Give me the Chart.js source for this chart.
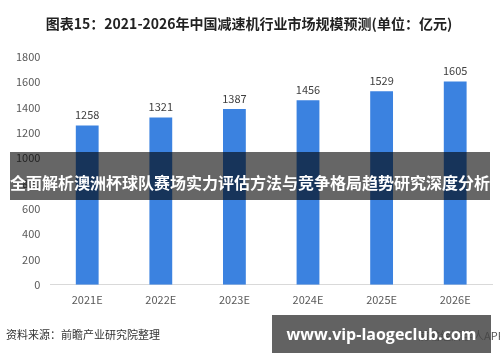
<!DOCTYPE html>
<html>
<head>
<meta charset="utf-8">
<script src="https://cdn.jsdelivr.net/npm/chart.js@4/dist/chart.umd.min.js"></script>
<style>
  html, body { margin: 0; padding: 0; background: #fff; }
  #wrap { position: relative; width: 500px; height: 362px; overflow: hidden; font-family: "Noto Sans CJK SC", "Noto Sans", sans-serif; }
  #source { position: absolute; left: 6px; top: 326px; font-size: 11px; color: #333; white-space: nowrap; }
  #app { position: absolute; left: 418px; top: 327px; font-size: 11px; color: #555; white-space: nowrap; }
  #banner { position: absolute; left: 10px; top: 152px; width: 480px; height: 48px; background: rgba(0,0,0,0.6);
    color: #fff; font-size: 16px; font-weight: bold; text-align: center; line-height: 60px; white-space: nowrap; }
  #site { position: absolute; left: 272px; top: 315px; width: 219px; height: 38px; background: rgba(70,70,70,0.85);
    color: #fff; font-size: 16px; font-weight: bold; text-align: center; line-height: 38px; white-space: nowrap;
    font-family: "Open Sans", "DejaVu Sans", sans-serif; }
</style>
</head>
<body>
<div id="wrap">
  <canvas id="chart" width="500" height="362"></canvas>
  <div id="source">资料来源：前瞻产业研究院整理</div>
  <div id="app">前瞻经济学人APP</div>
  <div id="banner">全面解析澳洲杯球队赛场实力评估方法与竞争格局趋势研究深度分析</div>
  <div id="site">www.vip-laogeclub.com</div>
</div>
<script>
  // 数据
  const years = ['2021E', '2022E', '2023E', '2024E', '2025E', '2026E'];
  const marketSize = [1258, 1321, 1387, 1456, 1529, 1605];
  const yTicks = [0, 200, 400, 600, 800, 1000, 1200, 1400, 1600, 1800];

  const fontFamily = '"Noto Sans CJK SC", "Noto Sans", sans-serif';

  // 柱顶数值
  const valueLabels = {
    id: 'valueLabels',
    afterDatasetsDraw(chart) {
      const { ctx } = chart;
      const meta = chart.getDatasetMeta(0);
      ctx.save();
      ctx.font = '11px ' + fontFamily;
      ctx.fillStyle = '#404040';
      ctx.textAlign = 'center';
      ctx.textBaseline = 'bottom';
      meta.data.forEach((bar, i) => {
        ctx.fillText(String(marketSize[i]), bar.x, bar.y - 5);
      });
      ctx.restore();
    }
  };

  new Chart(document.getElementById('chart').getContext('2d'), {
    type: 'bar',
    data: {
      labels: years,
      datasets: [{
        data: marketSize,
        backgroundColor: '#3b82e0',
        barPercentage: 0.31,
        categoryPercentage: 1
      }]
    },
    options: {
      responsive: false,
      animation: false,
      layout: { padding: { left: 6, right: 8, top: 0, bottom: 48 } },
      plugins: {
        legend: { display: false },
        tooltip: { enabled: false },
        title: {
          display: true,
          text: '图表15：2021-2026年中国减速机行业市场规模预测(单位：亿元)',
          color: '#222',
          font: { family: fontFamily, size: 14, weight: 'bold' },
          padding: { top: 15, bottom: 25 }
        }
      },
      scales: {
        x: {
          grid: { display: false, drawTicks: false },
          border: { color: '#d9d9d9' },
          ticks: { color: '#595959', font: { family: fontFamily, size: 11 }, padding: 8 }
        },
        y: {
          min: 0,
          max: 1800,
          afterBuildTicks: axis => { axis.ticks = yTicks.map(v => ({ value: v })); },
          grid: { display: false, drawTicks: false },
          border: { display: false },
          ticks: {
            color: '#595959',
            font: { family: fontFamily, size: 11 },
            padding: 10,
            callback: v => String(v)
          }
        }
      }
    },
    plugins: [valueLabels]
  });
</script>
</body>
</html>
